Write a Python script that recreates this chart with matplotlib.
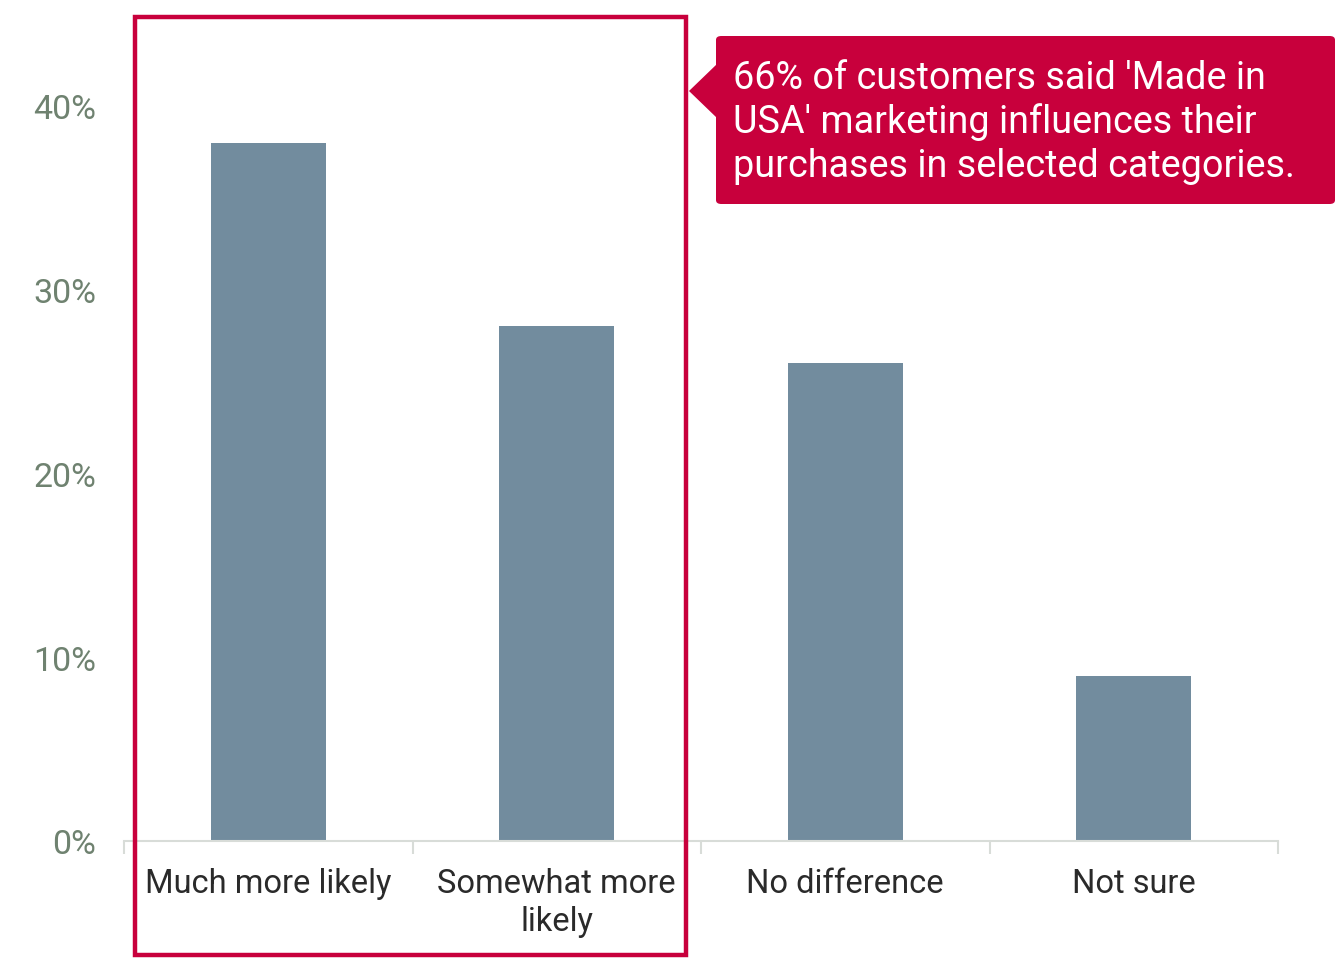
import matplotlib
matplotlib.use("Agg")
import matplotlib.pyplot as plt
import matplotlib.transforms as mtransforms
from matplotlib.patches import Rectangle, FancyBboxPatch, Polygon
from matplotlib.ticker import PercentFormatter

# survey responses
categories = ["Much more likely", "Somewhat more\nlikely", "No difference", "Not sure"]
shares = [38, 28, 26, 9]
callout = "66% of customers said 'Made in\nUSA' marketing influences their\npurchases in selected categories."

bar_color = "#728c9e"
accent = "#c8003c"
tick_color = "#6f8270"
axis_color = "#d8dcd8"

plt.rcParams["font.family"] = ["Roboto", "DejaVu Sans"]

W, H = 1342, 962
fig = plt.figure(figsize=(W / 100, H / 100), dpi=100)
ax = fig.add_axes([124 / W, (H - 842) / H, (1278 - 124) / W, (842 - 15) / H])

x = range(len(categories))
ax.bar(x, shares, width=0.40, color=bar_color, zorder=2)

ax.set_xlim(-0.5, len(categories) - 0.5)
ax.set_ylim(0, 45)
ax.set_yticks([0, 10, 20, 30, 40])
ax.yaxis.set_major_formatter(PercentFormatter(decimals=0))
ax.tick_params(axis="y", length=0, pad=20, labelsize=24.5, labelcolor=tick_color)

# category labels centered, tick marks between categories
ax.set_xticks(list(x))
ax.set_xticklabels(categories, fontsize=23.5, color="#2a2a2a", linespacing=1.22)
ax.tick_params(axis="x", which="major", length=0, pad=19)
ax.set_xticks([i - 0.5 for i in range(len(categories) + 1)], minor=True)
ax.tick_params(axis="x", which="minor", length=9, width=1.5, color=axis_color)

for side in ["top", "right", "left"]:
    ax.spines[side].set_visible(False)
ax.spines["bottom"].set_color(axis_color)
ax.spines["bottom"].set_linewidth(1.5)

# highlight frame around the first two categories
trans = mtransforms.blended_transform_factory(ax.transData, fig.transFigure)
frame = Rectangle((-0.462, 6 / H), 1.911, (957 - 17 - 2) / H, transform=trans,
                  fill=False, edgecolor=accent, linewidth=3.2, clip_on=False, zorder=5)
fig.add_artist(frame)

# callout box with pointer
box = FancyBboxPatch((716 / W, (H - 205) / H), (1335 - 716) / W, (205 - 37) / H,
                     boxstyle="round,pad=0,rounding_size=0.004", transform=fig.transFigure,
                     facecolor=accent, edgecolor="none")
fig.add_artist(box)
pointer = Polygon([(717 / W, (H - 65) / H), (689 / W, (H - 92) / H), (717 / W, (H - 119) / H)],
                  closed=True, transform=fig.transFigure, facecolor=accent, edgecolor="none")
fig.add_artist(pointer)
fig.text(733 / W, (H - 60) / H, callout, color="white", fontsize=27.2, va="top", ha="left",
         linespacing=1.22)

fig.savefig("out.png", dpi=100)
